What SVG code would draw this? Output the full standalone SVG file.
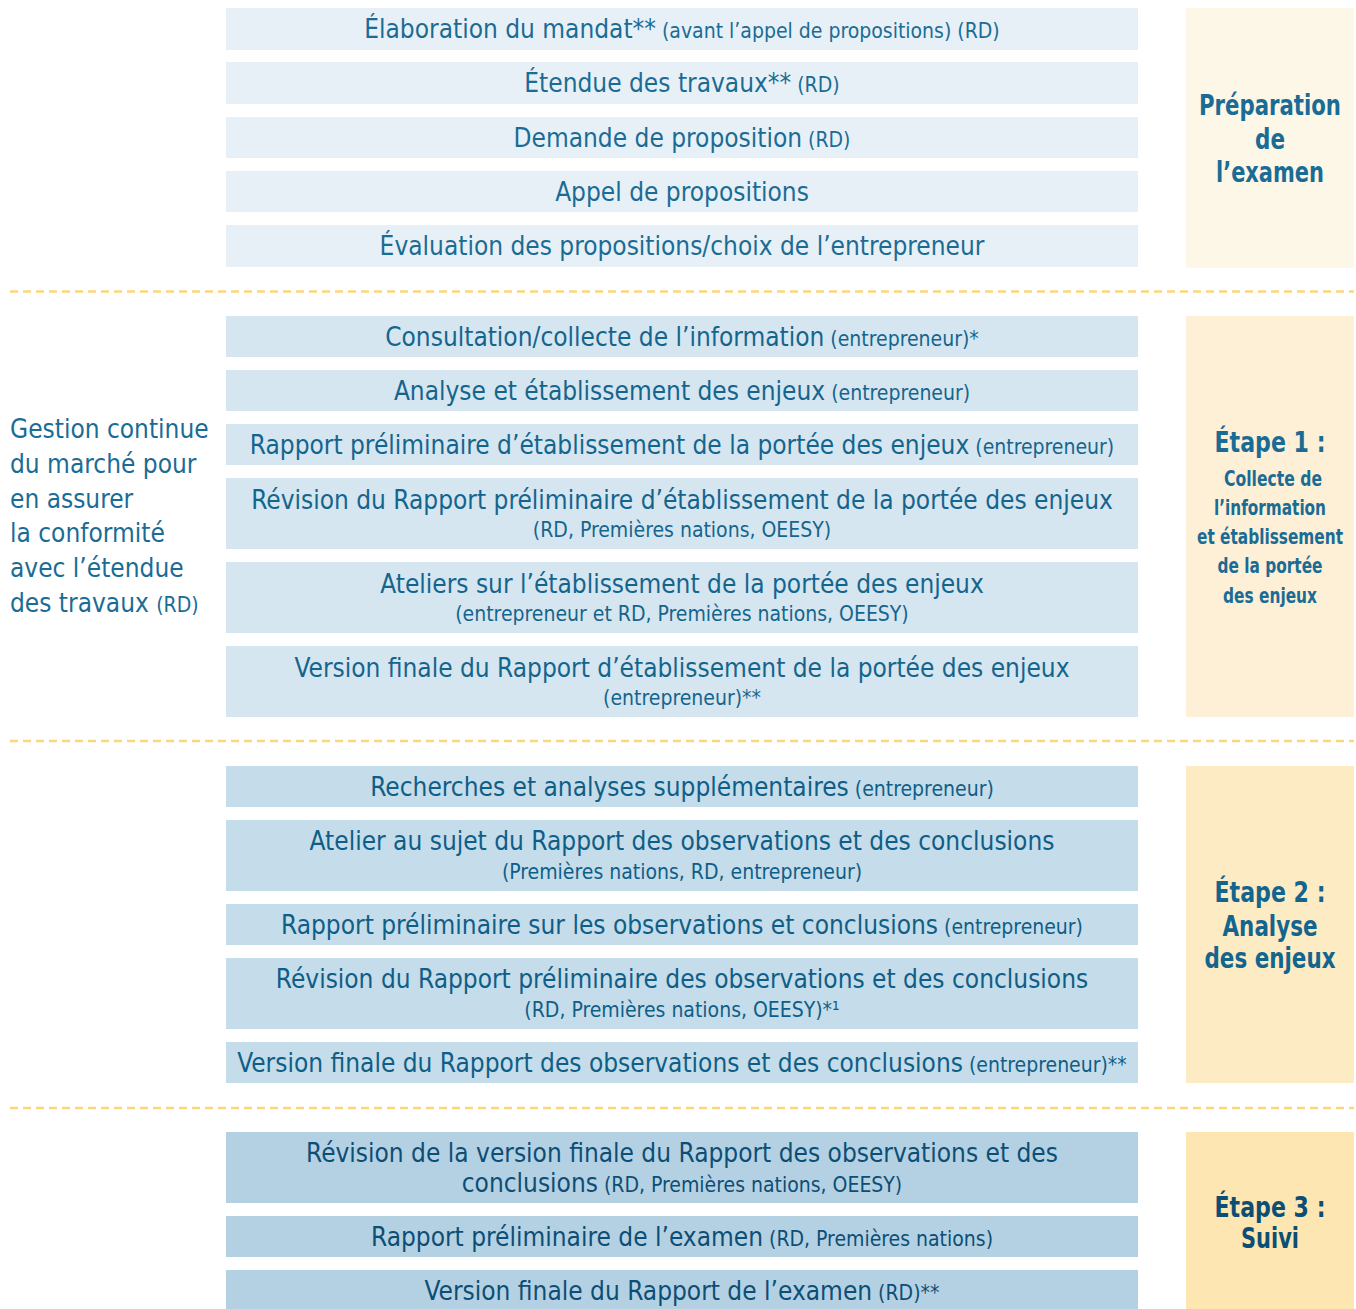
<svg xmlns="http://www.w3.org/2000/svg" width="1356" height="1309" viewBox="0 0 1356 1309">
<style>
.t{font-family:"DejaVu Sans Condensed","DejaVu Sans",sans-serif;font-size:26px;text-anchor:middle}
.s{font-size:21px}
.lt{font-family:"DejaVu Sans Condensed","DejaVu Sans",sans-serif;font-size:26px}
.p{font-family:"DejaVu Sans Condensed","DejaVu Sans",sans-serif;font-weight:bold;text-anchor:middle}
.b1{fill:#e8f0f7}.b2{fill:#d6e6f0}.b3{fill:#c5dcea}.b4{fill:#b4d1e4}
.c1{fill:#1a6c95}.c2{fill:#14658e}.c3{fill:#0f5e87}.c4{fill:#0c4e74}
.dash{stroke:#fdd67a;stroke-width:2.5;stroke-dasharray:8 5;fill:none}
</style>
<rect width="1356" height="1309" fill="#ffffff"/>
<g id="separators">
<line class="dash" x1="10" y1="291.5" x2="1354" y2="291.5"/>
<line class="dash" x1="10" y1="741" x2="1354" y2="741"/>
<line class="dash" x1="10" y1="1108" x2="1354" y2="1108"/>
</g>
<g id="connectors"></g>
<g id="phase-prep">
<rect x="1186" y="8" width="168" height="260" fill="#fdf7e8"/>
<text class="p c1" font-size="29"><tspan x="1270" y="115" textLength="142" lengthAdjust="spacingAndGlyphs">Préparation</tspan><tspan x="1270" y="149" textLength="30" lengthAdjust="spacingAndGlyphs">de</tspan><tspan x="1270" y="182" textLength="108" lengthAdjust="spacingAndGlyphs">l’examen</tspan></text>
</g>
<g id="phase-1">
<rect x="1186" y="316" width="168" height="401" fill="#fdf0d6"/>
<text class="p c1"><tspan x="1270" y="452" font-size="28" textLength="111" lengthAdjust="spacingAndGlyphs">Étape 1 :</tspan><tspan x="1273" y="486" font-size="22" textLength="98" lengthAdjust="spacingAndGlyphs">Collecte de</tspan><tspan x="1270" y="515" font-size="22" textLength="112" lengthAdjust="spacingAndGlyphs">l’information</tspan><tspan x="1270" y="544" font-size="22" textLength="146" lengthAdjust="spacingAndGlyphs">et établissement</tspan><tspan x="1270" y="573" font-size="22" textLength="105" lengthAdjust="spacingAndGlyphs">de la portée</tspan><tspan x="1270" y="603" font-size="22" textLength="94" lengthAdjust="spacingAndGlyphs">des enjeux</tspan></text>
</g>
<g id="phase-2">
<rect x="1186" y="766" width="168" height="317" fill="#fdebc4"/>
<text class="p c2" font-size="29"><tspan x="1270" y="902" textLength="111" lengthAdjust="spacingAndGlyphs">Étape 2 :</tspan><tspan x="1270" y="936" textLength="95" lengthAdjust="spacingAndGlyphs">Analyse</tspan><tspan x="1270" y="968" textLength="131" lengthAdjust="spacingAndGlyphs">des enjeux</tspan></text>
</g>
<g id="phase-3">
<rect x="1186" y="1132" width="168" height="177" fill="#fde6b1"/>
<text class="p c4" font-size="29"><tspan x="1270" y="1217" textLength="111" lengthAdjust="spacingAndGlyphs">Étape 3 :</tspan><tspan x="1270" y="1248" textLength="58" lengthAdjust="spacingAndGlyphs">Suivi</tspan></text>
</g>
<g id="gestion">
<text class="lt c1"><tspan x="10" y="438">Gestion continue</tspan><tspan x="10" y="473">du marché pour</tspan><tspan x="10" y="508">en assurer</tspan><tspan x="10" y="542">la conformité</tspan><tspan x="10" y="577">avec l’étendue</tspan><tspan x="10" y="612">des travaux <tspan class="s">(RD)</tspan></tspan></text>
</g>
<g id="n1"><rect class="b1" x="226" y="8" width="912" height="42"/><text class="t c1" x="682" y="38">Élaboration du mandat**<tspan class="s"> (avant l’appel de propositions) (RD)</tspan></text></g>
<g id="n2"><rect class="b1" x="226" y="62" width="912" height="42"/><text class="t c1" x="682" y="92">Étendue des travaux**<tspan class="s"> (RD)</tspan></text></g>
<g id="n3"><rect class="b1" x="226" y="117" width="912" height="41"/><text class="t c1" x="682" y="146.5">Demande de proposition<tspan class="s"> (RD)</tspan></text></g>
<g id="n4"><rect class="b1" x="226" y="171" width="912" height="41"/><text class="t c1" x="682" y="200.5">Appel de propositions</text></g>
<g id="n5"><rect class="b1" x="226" y="225" width="912" height="42"/><text class="t c1" x="682" y="255">Évaluation des propositions/choix de l’entrepreneur</text></g>
<g id="n6"><rect class="b2" x="226" y="316" width="912" height="41"/><text class="t c2" x="682" y="345.5">Consultation/collecte de l’information<tspan class="s"> (entrepreneur)*</tspan></text></g>
<g id="n7"><rect class="b2" x="226" y="370" width="912" height="41"/><text class="t c2" x="682" y="399.5">Analyse et établissement des enjeux<tspan class="s"> (entrepreneur)</tspan></text></g>
<g id="n8"><rect class="b2" x="226" y="424" width="912" height="41"/><text class="t c2" x="682" y="453.5">Rapport préliminaire d’établissement de la portée des enjeux<tspan class="s"> (entrepreneur)</tspan></text></g>
<g id="n9"><rect class="b2" x="226" y="478" width="912" height="71"/><text class="t c2" x="682" y="509">Révision du Rapport préliminaire d’établissement de la portée des enjeux</text><text class="t s c2" x="682" y="537">(RD, Premières nations, OEESY)</text></g>
<g id="n10"><rect class="b2" x="226" y="562" width="912" height="71"/><text class="t c2" x="682" y="593">Ateliers sur l’établissement de la portée des enjeux</text><text class="t s c2" x="682" y="621">(entrepreneur et RD, Premières nations, OEESY)</text></g>
<g id="n11"><rect class="b2" x="226" y="646" width="912" height="71"/><text class="t c2" x="682" y="677">Version finale du Rapport d’établissement de la portée des enjeux</text><text class="t s c2" x="682" y="705">(entrepreneur)**</text></g>
<g id="n12"><rect class="b3" x="226" y="766" width="912" height="41"/><text class="t c3" x="682" y="795.5">Recherches et analyses supplémentaires<tspan class="s"> (entrepreneur)</tspan></text></g>
<g id="n13"><rect class="b3" x="226" y="820" width="912" height="71"/><text class="t c3" x="682" y="850">Atelier au sujet du Rapport des observations et des conclusions</text><text class="t s c3" x="682" y="879">(Premières nations, RD, entrepreneur)</text></g>
<g id="n14"><rect class="b3" x="226" y="904" width="912" height="41"/><text class="t c3" x="682" y="933.5">Rapport préliminaire sur les observations et conclusions<tspan class="s"> (entrepreneur)</tspan></text></g>
<g id="n15"><rect class="b3" x="226" y="958" width="912" height="71"/><text class="t c3" x="682" y="988">Révision du Rapport préliminaire des observations et des conclusions</text><text class="t s c3" x="682" y="1017">(RD, Premières nations, OEESY)*¹</text></g>
<g id="n16"><rect class="b3" x="226" y="1042" width="912" height="41"/><text class="t c3" x="682" y="1071.5">Version finale du Rapport des observations et des conclusions<tspan class="s"> (entrepreneur)**</tspan></text></g>
<g id="n17"><rect class="b4" x="226" y="1132" width="912" height="71"/><text class="t c4" x="682" y="1162">Révision de la version finale du Rapport des observations et des</text><text class="t c4" x="682" y="1192">conclusions<tspan class="s"> (RD, Premières nations, OEESY)</tspan></text></g>
<g id="n18"><rect class="b4" x="226" y="1216" width="912" height="41"/><text class="t c4" x="682" y="1245.5">Rapport préliminaire de l’examen<tspan class="s"> (RD, Premières nations)</tspan></text></g>
<g id="n19"><rect class="b4" x="226" y="1270" width="912" height="45"/><text class="t c4" x="682" y="1300">Version finale du Rapport de l’examen<tspan class="s"> (RD)**</tspan></text></g>
</svg>
